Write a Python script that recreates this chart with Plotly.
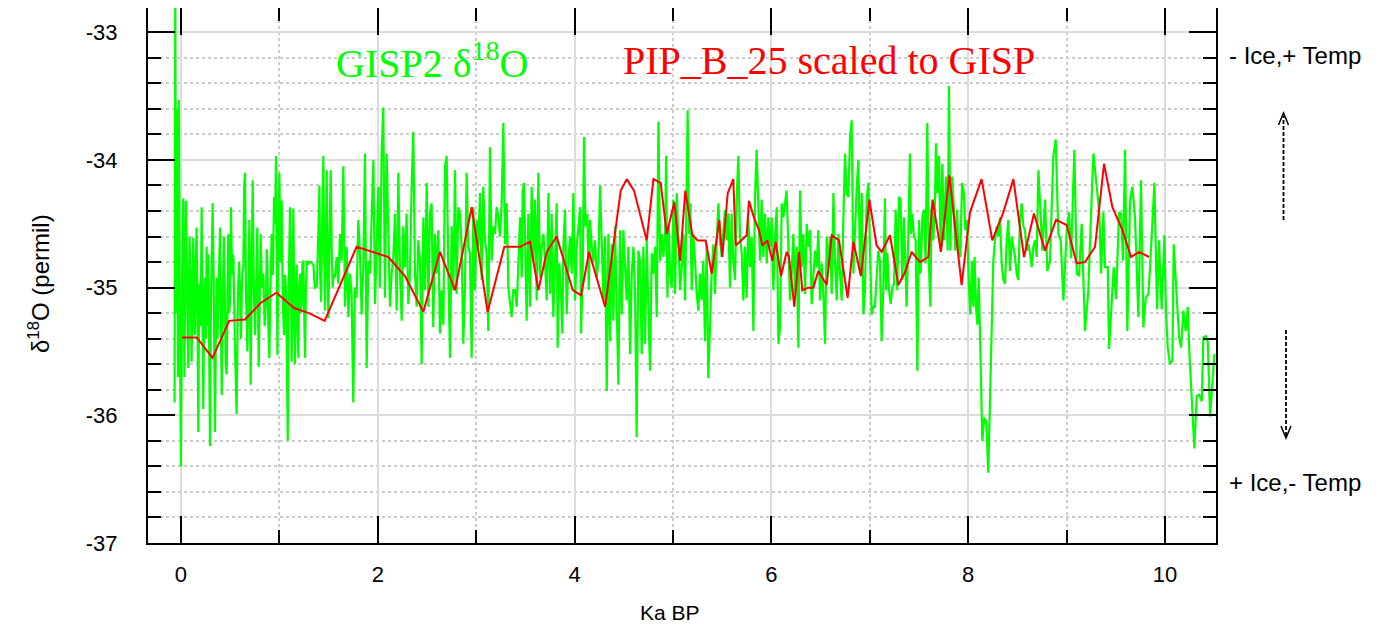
import plotly.graph_objects as go

# ---------------- GISP2 d18O (green), by segment ----------------
gisp_ka_a = [
    -0.065, -0.058, -0.050, -0.040, -0.030, -0.022, -0.012, 0.000, 0.012, 0.024,
    0.035, 0.050, 0.062, 0.075, 0.087, 0.098, 0.108, 0.118, 0.125, 0.134,
    0.142, 0.150, 0.159, 0.168, 0.176, 0.185, 0.193, 0.200, 0.210, 0.218,
    0.227, 0.235, 0.244, 0.252, 0.261, 0.270, 0.278, 0.287, 0.295, 0.305,
    0.322, 0.333, 0.346, 0.355, 0.363, 0.372, 0.385, 0.397, 0.405, 0.414,
    0.425, 0.436, 0.447, 0.455, 0.464, 0.472, 0.481, 0.490, 0.500, 0.508,
    0.520, 0.532, 0.542, 0.550, 0.566, 0.578, 0.590, 0.600, 0.610, 0.622,
    0.634, 0.642, 0.651, 0.660, 0.675, 0.685, 0.695, 0.702, 0.708, 0.718,
    0.729, 0.740, 0.753, 0.765, 0.776, 0.784, 0.790, 0.800, 0.810, 0.822,
    0.837, 0.850, 0.864, 0.872, 0.878, 0.888, 0.898, 0.910, 0.922, 0.934,
    0.946, 0.956, 0.966, 0.975, 0.980, 0.990, 1.000, 1.012, 1.024, 1.035,
    1.047, 1.058, 1.068, 1.076, 1.085, 1.095, 1.108, 1.118, 1.125, 1.135,
    1.142, 1.150, 1.159, 1.168, 1.176, 1.185, 1.193, 1.200, 1.210, 1.218,
    1.227, 1.235, 1.244, 1.252, 1.261, 1.270, 1.278, 1.290, 1.302, 1.320,
    1.346, 1.360, 1.380, 1.395, 1.407, 1.415, 1.424, 1.435, 1.447, 1.455,
    1.464, 1.472, 1.481, 1.490, 1.498, 1.510, 1.522, 1.532, 1.542, 1.550,
]
gisp_d18o_a = [
    -35.90, -32.60, -35.20, -33.60, -35.70, -33.53, -35.20, -36.40, -34.90, -34.30,
    -35.70, -34.32, -35.00, -35.63, -34.60, -34.89, -35.58, -34.80, -34.61, -35.30,
    -35.37, -34.80, -34.53, -35.20, -36.13, -35.00, -34.97, -35.30, -34.37, -35.10,
    -35.95, -35.20, -34.92, -35.40, -34.68, -35.30, -34.74, -35.50, -36.24, -35.10,
    -34.34, -35.00, -36.13, -35.30, -34.92, -35.40, -34.90, -34.53, -35.20, -35.84,
    -35.10, -34.60, -35.11, -35.60, -35.68, -35.00, -34.58, -35.20, -35.10, -34.37,
    -34.90, -34.74, -35.30, -35.50, -35.99, -35.10, -34.80, -35.00, -35.40, -34.90,
    -34.84, -34.20, -34.10, -35.00, -35.50, -34.80, -34.47, -35.20, -35.76, -34.90,
    -34.16, -35.00, -35.37, -34.90, -34.53, -35.20, -35.62, -35.10, -34.58, -35.00,
    -34.89, -35.30, -35.10, -34.70, -34.82, -35.30, -35.55, -35.00, -34.58, -34.90,
    -34.29, -34.50, -33.97, -34.90, -35.53, -34.70, -34.10, -34.80, -34.32, -35.10,
    -35.37, -34.90, -35.03, -35.50, -36.20, -35.00, -34.37, -35.00, -35.58, -34.90,
    -34.38, -35.00, -35.60, -35.10, -34.82, -35.30, -35.55, -35.00, -34.89, -35.20,
    -35.11, -34.80, -34.79, -35.20, -35.55, -35.00, -34.79, -34.82, -34.80, -34.80,
    -34.82, -35.00, -34.99, -34.60, -34.20, -34.90, -35.11, -34.50, -33.97, -34.80,
    -35.18, -34.60, -34.08, -34.90, -35.24, -34.60, -34.08, -34.70, -35.00, -34.90,
]

gisp_ka_b = [
    1.565, 1.582, 1.599, 1.616, 1.633, 1.650, 1.667, 1.684, 1.701, 1.717,
    1.734, 1.751, 1.768, 1.785, 1.802, 1.819, 1.836, 1.853, 1.870, 1.887,
    1.904, 1.921, 1.938, 1.955, 1.972, 1.988, 2.005, 2.022, 2.039, 2.056,
    2.073, 2.090, 2.107, 2.124, 2.141, 2.158, 2.175, 2.192, 2.209, 2.226,
    2.243, 2.259, 2.276, 2.293, 2.310, 2.327, 2.344, 2.361, 2.378, 2.395,
    2.412, 2.429, 2.446, 2.463, 2.480, 2.497, 2.514, 2.530, 2.547, 2.564,
    2.581, 2.598, 2.615, 2.632, 2.649, 2.666, 2.683, 2.700, 2.717, 2.734,
    2.751, 2.768, 2.785, 2.801, 2.818, 2.835, 2.852, 2.869, 2.886, 2.903,
    2.920, 2.937, 2.954, 2.971, 2.988, 3.005, 3.022, 3.039, 3.056, 3.072,
    3.089, 3.106, 3.123, 3.140, 3.157, 3.174, 3.191, 3.208, 3.225, 3.242,
    3.259, 3.276, 3.293, 3.310, 3.327, 3.343, 3.360, 3.377,
]
gisp_d18o_b = [
    -34.92, -34.76, -34.97, -34.58, -34.79, -34.05, -35.15, -34.68, -35.23, -34.89,
    -35.05, -35.90, -35.00, -35.08, -34.47, -34.73, -35.21, -34.84, -33.95, -35.63,
    -34.79, -34.89, -34.47, -34.00, -35.13, -34.55, -34.21, -35.00, -33.95, -33.59,
    -35.08, -33.95, -34.58, -35.15, -34.89, -34.76, -34.42, -35.18, -34.10, -34.89,
    -35.26, -34.52, -34.84, -34.42, -35.13, -34.89, -34.21, -33.78, -34.89, -35.15,
    -34.63, -34.79, -35.60, -34.45, -35.02, -34.18, -35.15, -34.42, -34.34, -35.31,
    -34.58, -34.89, -34.55, -35.36, -35.02, -35.29, -34.05, -33.97, -34.89, -35.55,
    -34.52, -35.02, -34.08, -35.05, -34.37, -34.42, -34.68, -35.44, -35.00, -34.10,
    -34.68, -34.73, -35.55, -34.37, -35.02, -34.47, -34.68, -34.26, -34.94, -34.21,
    -34.63, -34.73, -35.34, -33.90, -34.79, -34.52, -34.58, -34.37, -34.45, -34.60,
    -34.34, -33.71, -34.66, -34.34, -35.00, -35.13, -35.23, -35.02,
]

gisp_ka_c = [
    3.395, 3.412, 3.429, 3.446, 3.463, 3.473, 3.486, 3.500, 3.513, 3.530,
    3.547, 3.564, 3.581, 3.598, 3.615, 3.632, 3.649, 3.666, 3.683, 3.700,
    3.717, 3.734, 3.751, 3.767, 3.784, 3.801, 3.818, 3.828, 3.845, 3.862,
    3.876, 3.886, 3.903, 3.920, 3.937, 3.954, 3.971, 3.988, 4.005, 4.022,
    4.039, 4.056, 4.066, 4.083, 4.096, 4.110, 4.130, 4.144, 4.157, 4.174,
    4.191, 4.208, 4.225, 4.242, 4.259, 4.276, 4.293, 4.310, 4.327, 4.343,
    4.360, 4.377, 4.394, 4.411, 4.428, 4.445, 4.462, 4.479, 4.496, 4.513,
    4.530, 4.547, 4.564, 4.581, 4.598, 4.615, 4.631, 4.648, 4.665, 4.682,
    4.699, 4.716, 4.733, 4.750, 4.767, 4.784, 4.801, 4.818, 4.835, 4.852,
    4.869, 4.886, 4.903, 4.920, 4.930, 4.943, 4.957, 4.970, 4.987, 5.004,
    5.021, 5.038, 5.055, 5.072, 5.089, 5.106, 5.123,
]
gisp_d18o_c = [
    -35.02, -35.15, -34.79, -34.45, -34.92, -34.24, -34.18, -34.89, -35.26, -34.42,
    -35.15, -34.21, -34.79, -34.31, -35.10, -34.10, -34.92, -34.68, -34.58, -34.81,
    -35.10, -34.26, -35.05, -34.42, -35.23, -34.79, -34.34, -35.47, -34.81, -35.05,
    -35.36, -34.68, -34.39, -35.21, -34.79, -34.60, -34.89, -34.26, -35.10, -34.68,
    -34.55, -34.37, -35.36, -34.84, -33.82, -34.52, -34.42, -35.02, -34.47, -34.68,
    -34.79, -34.63, -34.92, -34.79, -34.20, -34.68, -35.10, -34.60, -35.81, -34.58,
    -35.42, -34.66, -35.26, -34.52, -35.05, -35.76, -34.55, -35.21, -34.55, -34.89,
    -35.10, -34.68, -35.52, -34.89, -34.68, -35.05, -36.17, -34.71, -34.79, -35.52,
    -34.68, -35.44, -34.63, -35.18, -35.65, -34.73, -34.89, -34.68, -35.23, -33.70,
    -34.79, -34.58, -34.76, -34.58, -33.97, -35.08, -34.52, -34.89, -35.00, -34.31,
    -35.05, -34.26, -34.73, -35.02, -34.84, -34.58, -35.10,
]

gisp_ka_d = [
    5.149, 5.163, 5.176, 5.190, 5.207, 5.224, 5.241, 5.258, 5.274, 5.291,
    5.308, 5.325, 5.342, 5.359, 5.376, 5.393, 5.410, 5.427, 5.444, 5.461,
    5.478, 5.495, 5.512, 5.529, 5.545, 5.562, 5.579, 5.596, 5.613, 5.630,
    5.647, 5.664, 5.681, 5.698, 5.715, 5.732, 5.749, 5.766, 5.783, 5.800,
    5.817, 5.833, 5.850, 5.867, 5.884, 5.901, 5.918, 5.935, 5.952, 5.969,
    5.986, 6.003, 6.020, 6.037, 6.054, 6.071, 6.088, 6.105, 6.121, 6.138,
    6.155, 6.172, 6.189, 6.206, 6.223, 6.240, 6.257, 6.274, 6.291, 6.308,
    6.325, 6.342, 6.359, 6.376, 6.393, 6.409, 6.426, 6.443, 6.460, 6.477,
    6.494, 6.511, 6.528, 6.545, 6.562, 6.579, 6.596, 6.613, 6.630, 6.647,
    6.664, 6.681, 6.697, 6.714, 6.731, 6.748, 6.765, 6.782, 6.799, 6.816,
    6.833, 6.850, 6.867, 6.884, 6.901, 6.918, 6.935,
]
gisp_d18o_d = [
    -33.61, -34.58, -34.34, -35.02, -34.58, -34.79, -35.05, -35.18, -34.89, -35.10,
    -34.79, -35.42, -34.66, -35.71, -35.21, -34.89, -34.66, -35.05, -34.63, -34.34,
    -34.63, -34.76, -34.55, -34.39, -34.63, -34.42, -35.00, -34.42, -34.79, -34.94,
    -34.31, -33.97, -34.60, -34.73, -35.10, -34.68, -35.08, -34.45, -34.84, -34.60,
    -35.34, -34.31, -33.92, -34.37, -34.79, -34.31, -34.76, -34.42, -34.81, -34.45,
    -34.68, -34.45, -35.02, -34.60, -34.37, -35.44, -35.31, -34.34, -34.45, -34.34,
    -34.24, -34.66, -35.10, -34.89, -34.58, -35.05, -34.68, -35.47, -34.24, -34.84,
    -34.58, -35.05, -34.50, -34.68, -34.55, -35.13, -34.87, -34.71, -34.84, -34.55,
    -35.10, -34.81, -35.05, -35.44, -34.60, -34.84, -34.60, -35.05, -34.26, -34.81,
    -35.10, -34.58, -34.89, -35.10, -34.47, -33.95, -34.26, -34.29, -33.82, -33.69,
    -34.89, -34.50, -34.21, -34.00, -34.89, -34.26, -35.21,
]

gisp_ka_e = [
    6.951, 6.968, 6.985, 7.002, 7.019, 7.036, 7.052, 7.069, 7.086, 7.103,
    7.120, 7.137, 7.154, 7.164, 7.178, 7.195, 7.212, 7.229, 7.246, 7.263,
    7.279, 7.296, 7.313, 7.330, 7.347, 7.364, 7.374, 7.391, 7.408, 7.418,
    7.432, 7.449, 7.466, 7.483, 7.500, 7.517, 7.534, 7.550, 7.567, 7.584,
    7.601, 7.615, 7.628, 7.645, 7.662, 7.672, 7.686, 7.703, 7.720, 7.737,
    7.754, 7.774, 7.791, 7.805, 7.818, 7.835, 7.852, 7.869, 7.886, 7.903,
    7.920, 7.937, 7.954, 7.971, 7.988, 8.004, 8.021, 8.038, 8.052, 8.065,
    8.079, 8.093, 8.106, 8.126, 8.143, 8.164, 8.184, 8.204, 8.221, 8.238,
    8.255, 8.272, 8.289, 8.306, 8.323, 8.340, 8.357, 8.374, 8.391, 8.408,
    8.425, 8.442, 8.459, 8.476, 8.492, 8.509, 8.526, 8.543, 8.560, 8.577,
    8.594, 8.611, 8.628, 8.645, 8.662, 8.679, 8.696, 8.713,
]
gisp_d18o_e = [
    -35.02, -34.31, -34.18, -34.79, -35.21, -35.15, -35.15, -34.92, -34.71, -34.79,
    -35.42, -35.02, -34.30, -35.02, -34.73, -35.02, -35.13, -35.00, -34.97, -34.39,
    -35.02, -34.29, -34.31, -34.94, -34.45, -34.89, -35.15, -34.60, -33.95, -34.58,
    -34.42, -34.60, -34.63, -35.65, -34.47, -34.89, -34.45, -34.39, -34.81, -33.71,
    -34.81, -35.15, -34.37, -34.63, -34.34, -33.87, -34.26, -33.97, -34.71, -34.03,
    -34.63, -34.13, -34.71, -33.42, -34.71, -34.13, -34.34, -34.71, -34.39, -34.73,
    -34.76, -34.18, -34.24, -34.55, -34.47, -34.92, -35.21, -34.79, -35.15, -34.76,
    -35.15, -35.29, -34.92, -35.57, -36.20, -36.02, -36.05, -36.45, -35.81, -35.36,
    -34.79, -34.63, -34.52, -34.60, -34.45, -34.81, -34.94, -34.97, -34.63, -34.47,
    -34.87, -34.60, -34.68, -34.76, -34.89, -34.94, -34.47, -34.34, -34.52, -34.55,
    -34.71, -34.66, -34.73, -34.84, -34.68, -34.63, -34.76, -34.08,
]

gisp_ka_f = [
    8.754, 8.781, 8.804, 8.831, 8.865, 8.889, 8.916, 8.940, 8.967, 9.001,
    9.025, 9.045, 9.079, 9.103, 9.126, 9.153, 9.187, 9.221, 9.238, 9.272,
    9.306, 9.333, 9.350, 9.374, 9.390, 9.418, 9.431, 9.458, 9.479, 9.502,
    9.533, 9.553, 9.573, 9.594, 9.617, 9.645, 9.668, 9.695, 9.729, 9.756,
    9.780, 9.804, 9.831, 9.848, 9.865, 9.892, 9.919, 9.939, 9.966, 9.994,
    10.010, 10.027, 10.051, 10.075, 10.088, 10.119, 10.143, 10.163, 10.187, 10.210,
    10.231, 10.248, 10.271, 10.298, 10.322, 10.346, 10.373, 10.390, 10.414, 10.434,
    10.458, 10.481, 10.502,
]
gisp_d18o_f = [
    -34.71, -34.31, -34.87, -34.79, -33.97, -33.84, -34.58, -34.63, -35.10, -34.55,
    -34.41, -34.77, -33.92, -34.89, -34.91, -34.50, -35.34, -35.02, -34.63, -33.95,
    -34.21, -34.42, -34.89, -34.41, -34.84, -34.84, -35.48, -35.13, -34.84, -35.09,
    -34.41, -34.42, -34.79, -33.92, -35.34, -34.31, -34.21, -34.45, -35.23, -34.16,
    -35.31, -35.08, -35.05, -34.84, -34.58, -34.18, -35.17, -34.63, -35.17, -34.59,
    -35.18, -35.47, -35.60, -35.57, -34.66, -35.10, -35.39, -35.47, -35.18, -35.34,
    -35.15, -35.52, -35.92, -36.26, -35.85, -35.84, -35.89, -35.39, -35.38, -35.42,
    -36.01, -35.71, -35.52,
]

# ---------------- PIP_B_25 scaled to GISP (red) ----------------
pip_ka = [
    0.01, 0.16, 0.32, 0.49, 0.65, 0.81, 0.97, 1.15, 1.30, 1.46,
    1.785, 2.107, 2.276, 2.463, 2.632, 2.785, 2.954, 3.116, 3.286, 3.446,
    3.547, 3.632, 3.717, 3.818, 3.981, 4.066, 4.147, 4.310, 4.469, 4.530,
    4.604, 4.733, 4.801, 4.875, 4.936, 5.014, 5.072, 5.125, 5.197, 5.251,
    5.332, 5.393, 5.471, 5.501, 5.556, 5.613, 5.637, 5.749, 5.772, 5.826,
    5.874, 5.908, 5.959, 6.010, 6.043, 6.098, 6.155, 6.179, 6.233, 6.281,
    6.314, 6.375, 6.426, 6.477, 6.562, 6.613, 6.687, 6.775, 6.833, 6.910,
    6.995, 7.069, 7.120, 7.205, 7.290, 7.357, 7.425, 7.510, 7.594, 7.638,
    7.723, 7.808, 7.933, 8.018, 8.136, 8.245, 8.357, 8.459, 8.567, 8.668,
    8.781, 8.892, 9.001, 9.102, 9.187, 9.289, 9.380, 9.465, 9.567, 9.655,
    9.736, 9.838,
]
pip_d18o = [
    -35.39, -35.39, -35.55, -35.26, -35.25, -35.12, -35.04, -35.16, -35.20, -35.26,
    -34.68, -34.76, -34.91, -35.19, -34.72, -35.02, -34.37, -35.19, -34.68, -34.68,
    -34.64, -35.02, -34.72, -34.60, -35.02, -35.06, -34.72, -35.15, -34.24, -34.15,
    -34.24, -34.63, -34.15, -34.18, -34.58, -34.33, -34.79, -34.24, -34.59, -34.63,
    -34.63, -34.89, -34.47, -34.76, -34.26, -34.15, -34.67, -34.59, -34.32, -34.46,
    -34.55, -34.67, -34.63, -34.79, -34.64, -34.91, -34.72, -34.76, -35.15, -34.72,
    -35.02, -35.00, -35.00, -34.87, -34.98, -34.59, -34.63, -35.08, -34.64, -34.91,
    -34.31, -34.67, -34.72, -34.59, -34.98, -34.88, -34.72, -34.80, -34.76, -34.31,
    -34.72, -34.12, -34.98, -34.41, -34.15, -34.63, -34.41, -34.15, -34.76, -34.42,
    -34.71, -34.47, -34.51, -34.81, -34.80, -34.68, -34.03, -34.37, -34.55, -34.76,
    -34.72, -34.76,
]

x_ticks = [0, 2, 4, 6, 8, 10]
y_ticks = [-37, -36, -35, -34, -33]

gisp_ka = gisp_ka_a + gisp_ka_b + gisp_ka_c + gisp_ka_d + gisp_ka_e + gisp_ka_f
gisp_d18o = gisp_d18o_a + gisp_d18o_b + gisp_d18o_c + gisp_d18o_d + gisp_d18o_e + gisp_d18o_f

GREEN = "#00ff00"
RED = "#ff0000"
SANS = "Liberation Sans, Arial, sans-serif"
SERIF = "Liberation Serif, Times New Roman, serif"

fig = go.Figure()
fig.add_trace(go.Scatter(x=gisp_ka, y=gisp_d18o, mode="lines",
                         line=dict(color=GREEN, width=2.2), name="GISP2", showlegend=False))
fig.add_trace(go.Scatter(x=pip_ka, y=pip_d18o, mode="lines",
                         line=dict(color=RED, width=2), name="PIP_B_25", showlegend=False))

axis_common = dict(
    showline=True, linecolor="black", linewidth=2, mirror="allticks",
    ticks="inside", ticklen=27, tickwidth=2, tickcolor="black",
    showgrid=True, gridcolor="#dcdcdc", gridwidth=2, zeroline=False,
    tickfont=dict(family=SANS, size=22, color="black"),
)

fig.update_xaxes(range=[-0.335, 10.518], tickvals=x_ticks,
                 ticktext=[str(v) for v in x_ticks],
                 minor=dict(dtick=1, tick0=0, ticklen=13, tickwidth=2, tickcolor="black",
                            ticks="inside", showgrid=True, gridcolor="#cccccc",
                            gridwidth=1.5, griddash="dot"),
                 ticklabelstandoff=11, **axis_common)
fig.update_yaxes(range=[-37.0, -32.81], tickvals=y_ticks,
                 ticktext=[str(v) for v in y_ticks],
                 minor=dict(dtick=0.2, tick0=-37, ticklen=13, tickwidth=2, tickcolor="black",
                            ticks="inside", showgrid=True, gridcolor="#cccccc",
                            gridwidth=1.5, griddash="dot"),
                 ticklabelstandoff=24, **axis_common)

# helpers mapping screenshot pixels (plot area 148..1216 x 8..543) to paper coordinates
def px_x(px):
    return (px - 148) / 1068.0

def px_y(py):
    return (543 - py) / 535.0

annotations = [
    dict(text="GISP2 δ<sup>18</sup>O", x=px_x(432), y=px_y(60), font=dict(family=SERIF, size=40, color=GREEN),
         xanchor="center", yanchor="middle"),
    dict(text="PIP_B_25 scaled to GISP", x=px_x(829), y=px_y(60), font=dict(family=SERIF, size=40, color=RED),
         xanchor="center", yanchor="middle"),
    dict(text="- Ice,+ Temp", x=px_x(1227), y=px_y(55), font=dict(family=SANS, size=24, color="black"),
         xanchor="left", yanchor="middle"),
    dict(text="+ Ice,- Temp", x=px_x(1227), y=px_y(482), font=dict(family=SANS, size=24, color="black"),
         xanchor="left", yanchor="middle"),
    dict(text="δ<sup>18</sup>O (permil)", x=px_x(39), y=px_y(284), textangle=-90,
         font=dict(family=SANS, size=24, color="black"), xanchor="center", yanchor="middle"),
    dict(text="Ka BP", x=px_x(670), y=px_y(612), font=dict(family=SANS, size=21, color="black"),
         xanchor="center", yanchor="middle"),
]
for a in annotations:
    a.update(xref="paper", yref="paper", showarrow=False)

shapes = [
    dict(type="line", x0=px_x(1283.5), x1=px_x(1283.5), y0=px_y(220), y1=px_y(116),
         line=dict(color="black", width=1.8, dash="4px,2px")),
    dict(type="path", path=f"M {px_x(1278.5)},{px_y(125)} L {px_x(1283.5)},{px_y(113)} L {px_x(1288.5)},{px_y(125)}",
         line=dict(color="black", width=1.5)),
    dict(type="line", x0=px_x(1286), x1=px_x(1286), y0=px_y(330), y1=px_y(436),
         line=dict(color="black", width=1.8, dash="4px,2px")),
    dict(type="path", path=f"M {px_x(1281)},{px_y(426)} L {px_x(1286)},{px_y(438)} L {px_x(1291)},{px_y(426)}",
         line=dict(color="black", width=1.5)),
]
for s in shapes:
    s.update(xref="paper", yref="paper")

# the page body adds an 8px offset, so the margins are shifted to land the plot area at 148..1216 x 8..543
fig.update_layout(
    width=1385, height=637,
    margin=dict(l=140, r=177, t=0, b=102, autoexpand=False),
    plot_bgcolor="white", paper_bgcolor="white",
    annotations=annotations, shapes=shapes, showlegend=False,
)

fig.write_html("out.html")
